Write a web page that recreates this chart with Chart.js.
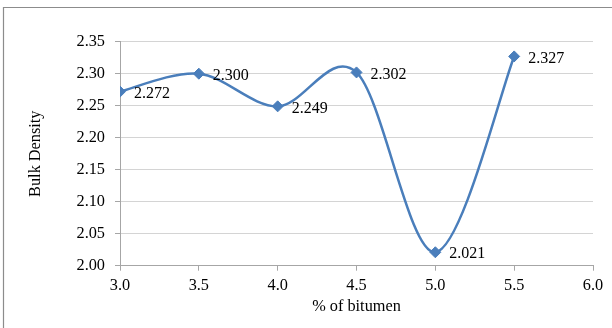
<!DOCTYPE html>
<html>
<head>
<meta charset="utf-8">
<script src="https://cdn.jsdelivr.net/npm/chart.js@4/dist/chart.umd.min.js"></script>
<style>
  html, body { margin: 0; padding: 0; background: #fff; }
  #wrap { width: 612px; height: 328px; position: relative; }
</style>
</head>
<body>
<div id="wrap"><canvas id="c" width="612" height="328"></canvas></div>
<script>
// Bulk density against bitumen content
const bitumenPct = [3.0, 3.5, 4.0, 4.5, 5.0, 5.5];
const bulkDensity = [2.272, 2.300, 2.249, 2.302, 2.021, 2.327];
const xTickValues = [3.0, 3.5, 4.0, 4.5, 5.0, 5.5, 6.0];
const yTickValues = [2.00, 2.05, 2.10, 2.15, 2.20, 2.25, 2.30, 2.35];

const serif = "'Liberation Serif', 'Times New Roman', serif";
const lineBlue = '#4A7EBB';
const textSize = 16.3;

// frame around the whole chart
const framePlugin = {
  id: 'frame',
  beforeDraw(chart) {
    const ctx = chart.ctx;
    ctx.save();
    ctx.fillStyle = '#fff';
    ctx.fillRect(0, 0, chart.width, chart.height);
    ctx.strokeStyle = '#8c8c8c';
    ctx.lineWidth = 1.2;
    ctx.beginPath();
    ctx.moveTo(3.5, chart.height + 5);
    ctx.lineTo(3.5, 7.5);
    ctx.lineTo(chart.width + 5, 7.5);
    ctx.stroke();
    ctx.restore();
  }
};

// uniform Catmull-Rom smoothing: control points at P[i] -/+ (P[i+1] - P[i-1]) / 6
const uniformSmoothing = {
  id: 'uniformSmoothing',
  beforeDatasetDraw(chart, args) {
    const meta = args.meta;
    const line = meta.dataset;
    if (line && line.updateControlPoints) line.updateControlPoints(chart.chartArea, 'x');
    const pts = meta.data;
    const n = pts.length;
    for (let i = 0; i < n; i++) {
      const p = pts[i];
      const prev = pts[Math.max(i - 1, 0)];
      const next = pts[Math.min(i + 1, n - 1)];
      const dx = (next.x - prev.x) / 6;
      const dy = (next.y - prev.y) / 6;
      p.cp1x = p.x - dx;
      p.cp1y = p.y - dy;
      p.cp2x = p.x + dx;
      p.cp2y = p.y + dy;
    }
  }
};

// value labels beside each marker
const valueLabels = {
  id: 'valueLabels',
  afterDatasetsDraw(chart) {
    const ctx = chart.ctx;
    const meta = chart.getDatasetMeta(0);
    ctx.save();
    ctx.font = '16px ' + serif;
    ctx.fillStyle = '#000';
    ctx.textAlign = 'left';
    ctx.textBaseline = 'middle';
    meta.data.forEach((pt, i) => {
      ctx.fillText(bulkDensity[i].toFixed(3), pt.x + 14, pt.y + 2);
    });
    ctx.restore();
  }
};

new Chart(document.getElementById('c'), {
  type: 'line',
  data: {
    datasets: [{
      data: bitumenPct.map((x, i) => ({ x: x, y: bulkDensity[i] })),
      borderColor: lineBlue,
      backgroundColor: lineBlue,
      borderWidth: 2.5,
      tension: 0.4,
      pointStyle: 'rectRot',
      pointRadius: 5.5,
      pointBorderWidth: 1,
      pointBackgroundColor: lineBlue,
      pointBorderColor: lineBlue,
      fill: false
    }]
  },
  options: {
    responsive: false,
    animation: false,
    devicePixelRatio: 1,
    layout: { padding: { top: 41.7, right: 19, bottom: 0, left: 0 } },
    plugins: { legend: { display: false }, tooltip: { enabled: false } },
    scales: {
      x: {
        type: 'linear',
        min: 3.0,
        max: 6.0,
        afterBuildTicks(scale) { scale.ticks = xTickValues.map(v => ({ value: v })); },
        afterFit(scale) { scale.height = 62.3; },
        ticks: {
          font: { family: serif, size: textSize },
          color: '#000',
          padding: 5,
          maxRotation: 0,
          callback: v => Number(v).toFixed(1)
        },
        grid: {
          drawOnChartArea: false,
          drawTicks: true,
          tickLength: 5,
          tickColor: '#a6a6a6',
          color: '#a6a6a6'
        },
        border: { color: '#a6a6a6', width: 1 },
        title: {
          display: true,
          text: '% of bitumen',
          font: { family: serif, size: textSize },
          color: '#000',
          padding: { top: 0, bottom: 11.5 }
        }
      },
      y: {
        min: 2.00,
        max: 2.35,
        afterBuildTicks(scale) { scale.ticks = yTickValues.map(v => ({ value: v })); },
        afterFit(scale) { scale.width = 120; },
        ticks: {
          font: { family: serif, size: textSize },
          color: '#000',
          padding: 10,
          callback: v => Number(v).toFixed(2)
        },
        grid: {
          drawOnChartArea: true,
          drawTicks: true,
          tickLength: 5,
          color: '#d4d4d4',
          tickColor: '#a6a6a6',
          lineWidth: 1
        },
        border: { color: '#a6a6a6', width: 1 },
        title: {
          display: true,
          text: 'Bulk Density',
          font: { family: serif, size: textSize },
          color: '#000',
          padding: { top: 26.2, bottom: 0 }
        }
      }
    }
  },
  plugins: [framePlugin, uniformSmoothing, valueLabels]
});
</script>
</body>
</html>
